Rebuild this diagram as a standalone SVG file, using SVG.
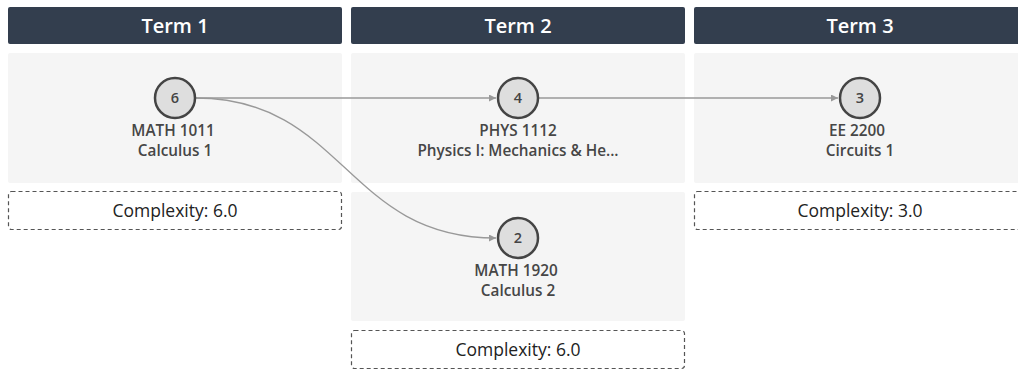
<svg xmlns="http://www.w3.org/2000/svg" width="1018" height="371" viewBox="0 0 1018 371">
<style>
.hdr{fill:#333e4e}
.hdrt{fill:#fff;font-family:"Open Sans",Lato,sans-serif;font-size:20px;font-weight:600;text-anchor:middle}
.panel{fill:#f5f5f5}
.cbox{fill:#fff;stroke:#555;stroke-width:1.2;stroke-dasharray:4 3}
.ctext{fill:#222;font-family:"Open Sans",Lato,sans-serif;font-size:17.5px;text-anchor:middle}
.circ{fill:#dedede;stroke:#444;stroke-width:2.5}
.num{fill:#444;font-family:"Open Sans",Lato,sans-serif;font-size:14.5px;font-weight:600;text-anchor:middle}
.lbl{fill:#464646;font-family:"Open Sans",Lato,sans-serif;font-size:15.3px;font-weight:600;text-anchor:middle}
.edge{fill:none;stroke:#999;stroke-width:1.3}
</style>
<defs>
<marker id="arr" viewBox="0 0 10 10" refX="10" refY="5" markerWidth="7" markerHeight="7" markerUnits="userSpaceOnUse" orient="auto">
<path d="M0,0 L10,5 L0,10 z" fill="#999"/>
</marker>
</defs>
<rect width="1018" height="371" fill="#fff"/>
<g id="term1">
<rect class="hdr" x="8" y="7" width="334" height="37" rx="2"/>
<text class="hdrt" x="175" y="33">Term 1</text>
<rect class="panel" x="8" y="53" width="334" height="130" rx="2"/>
<rect class="cbox" x="8.5" y="191.5" width="333" height="38" rx="3"/>
<text class="ctext" x="175" y="217">Complexity: 6.0</text>
</g>
<g id="term2">
<rect class="hdr" x="351" y="7" width="334" height="37" rx="2"/>
<text class="hdrt" x="518" y="33">Term 2</text>
<rect class="panel" x="351" y="53" width="334" height="130" rx="2"/>
<rect class="panel" x="351" y="192" width="334" height="129" rx="2"/>
<rect class="cbox" x="351.5" y="330.5" width="333" height="38" rx="3"/>
<text class="ctext" x="518" y="356">Complexity: 6.0</text>
</g>
<g id="term3">
<rect class="hdr" x="694" y="7" width="334" height="37" rx="2"/>
<text class="hdrt" x="860" y="33">Term 3</text>
<rect class="panel" x="694" y="53" width="334" height="130" rx="2"/>
<rect class="cbox" x="694.5" y="191.5" width="333" height="38" rx="3"/>
<text class="ctext" x="860" y="217">Complexity: 3.0</text>
</g>
<g id="connectors">
<path class="edge" d="M195,98 L496,98" marker-end="url(#arr)"/>
<path class="edge" d="M538,98 L838,98" marker-end="url(#arr)"/>
<path class="edge" d="M195,98 C345,98 345,238 496,238" marker-end="url(#arr)"/>
</g>
<g id="node-math1011">
<circle class="circ" cx="175" cy="98" r="20"/>
<text class="num" x="175" y="103">6</text>
<text class="lbl" x="173" y="136">MATH 1011</text>
<text class="lbl" x="175" y="156">Calculus 1</text>
</g>
<g id="node-phys1112">
<circle class="circ" cx="518" cy="98" r="20"/>
<text class="num" x="518" y="103">4</text>
<text class="lbl" x="518" y="136">PHYS 1112</text>
<text class="lbl" x="518" y="156">Physics I: Mechanics &amp; He...</text>
</g>
<g id="node-ee2200">
<circle class="circ" cx="860" cy="98" r="20"/>
<text class="num" x="860" y="103">3</text>
<text class="lbl" x="857" y="136">EE 2200</text>
<text class="lbl" x="860" y="156">Circuits 1</text>
</g>
<g id="node-math1920">
<circle class="circ" cx="518" cy="238" r="20"/>
<text class="num" x="518" y="243">2</text>
<text class="lbl" x="516" y="276">MATH 1920</text>
<text class="lbl" x="518" y="296">Calculus 2</text>
</g>
</svg>
